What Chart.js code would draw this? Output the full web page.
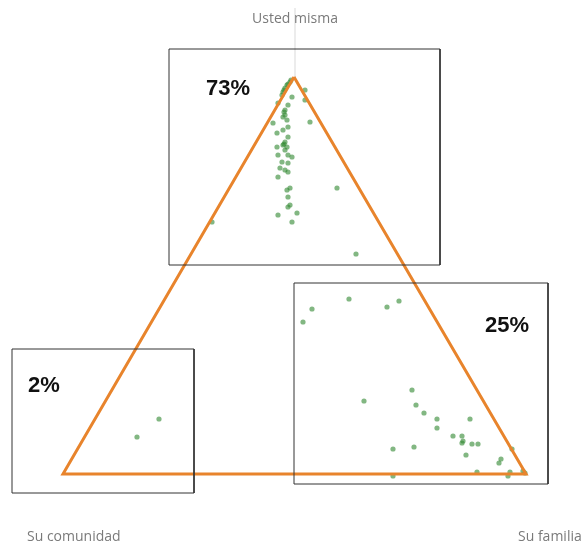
<!DOCTYPE html>
<html>
<head>
<meta charset="utf-8">
<script src="https://cdn.jsdelivr.net/npm/chart.js@4"></script>
<style>
  html, body { margin: 0; padding: 0; background: #fff; }
  #wrap { width: 581px; height: 544px; }
</style>
</head>
<body>
<div id="wrap"><canvas id="chart" width="581" height="544"></canvas></div>
<script>
// corner labels and share of answers per zone
const corners = ['Usted misma', 'Su comunidad', 'Su familia'];
const shares = ['73%', '2%', '25%'];

// triangle outline (closed)
const triangle = [
  { x: 294, y: 77 }, { x: 63, y: 474 }, { x: 526, y: 474 }, { x: 294, y: 77 }
];

// zone boxes: [left, top, right, bottom]
const boxTop = [169, 49, 440, 265];
const boxRight = [294, 283, 548, 484];
const boxLeft = [12, 349, 194, 493];

// answers near "Usted misma"
const pointsTop = [
  [291, 80], [290, 82], [288, 84], [287, 85], [285, 88], [284, 90], [283, 92], [282, 95],
  [292, 97], [305, 90], [305, 100], [278, 103], [288, 105], [285, 110], [284, 112],
  [285, 115], [283, 117], [287, 120], [310, 122], [273, 123], [288, 127], [283, 130],
  [277, 133], [288, 137], [285, 142], [284, 144], [283, 145], [287, 147], [277, 147],
  [285, 150], [288, 155], [278, 155], [292, 157], [282, 162], [288, 163], [280, 168],
  [285, 170], [288, 172], [278, 177], [290, 188], [287, 190], [337, 188], [288, 197],
  [290, 205], [288, 207], [278, 215], [297, 213], [292, 222], [212, 222], [356, 254]
];

// answers near "Su familia"
const pointsRight = [
  [303, 322], [312, 309], [349, 299], [387, 307], [399, 301], [412, 390], [364, 401],
  [416, 405], [424, 413], [437, 419], [437, 428], [470, 419], [453, 436], [462, 436],
  [463, 441], [462, 443], [472, 444], [478, 444], [466, 455], [393, 449], [414, 447],
  [512, 449], [501, 459], [499, 463], [477, 472], [510, 472], [508, 476], [523, 471],
  [525, 473], [393, 476]
];

// answers near "Su comunidad"
const pointsLeft = [[159, 419], [137, 437]];

function rect(b) {
  return [
    { x: b[0], y: b[1] }, { x: b[2], y: b[1] }, { x: b[2], y: b[3] },
    { x: b[0], y: b[3] }, { x: b[0], y: b[1] }
  ];
}
function toXY(arr) {
  return arr.map(p => ({ x: p[0], y: p[1] }));
}

const boxStyle = {
  showLine: true, borderColor: '#333', borderWidth: 1,
  pointRadius: 0, fill: false, tension: 0
};
const dotStyle = {
  showLine: false, pointRadius: 2.6, pointBorderWidth: 0,
  pointBackgroundColor: 'rgba(46, 135, 46, 0.6)'
};

// text labels drawn on top
const labelPlugin = {
  id: 'labels',
  afterDatasetsDraw(chart) {
    const ctx = chart.ctx;
    const xs = chart.scales.x, ys = chart.scales.y;
    ctx.save();
    ctx.textBaseline = 'middle';

    ctx.fillStyle = '#7a7a7a';
    ctx.font = '14px "Open Sans", sans-serif';
    ctx.textAlign = 'center';
    ctx.fillText(corners[0], xs.getPixelForValue(295), ys.getPixelForValue(19));
    ctx.textAlign = 'left';
    ctx.fillText(corners[1], xs.getPixelForValue(27), ys.getPixelForValue(537));
    ctx.fillText(corners[2], xs.getPixelForValue(518), ys.getPixelForValue(537));

    ctx.fillStyle = '#111';
    ctx.font = 'bold 22px "Liberation Sans", Arial, sans-serif';
    ctx.fillText(shares[0], xs.getPixelForValue(206), ys.getPixelForValue(89));
    ctx.fillText(shares[1], xs.getPixelForValue(28), ys.getPixelForValue(386));
    ctx.fillText(shares[2], xs.getPixelForValue(485), ys.getPixelForValue(326));
    ctx.restore();
  }
};

new Chart(document.getElementById('chart'), {
  type: 'scatter',
  data: {
    datasets: [
      { data: [{ x: 295, y: 8 }, { x: 295, y: 77 }], showLine: true,
        borderColor: 'rgba(0,0,0,0.06)', borderWidth: 1, pointRadius: 0 },
      Object.assign({ data: rect(boxTop) }, boxStyle),
      Object.assign({ data: rect(boxRight) }, boxStyle),
      Object.assign({ data: rect(boxLeft) }, boxStyle),
      { data: triangle, showLine: true, borderColor: '#e8842c', borderWidth: 3,
        pointRadius: 0, tension: 0, borderJoinStyle: 'miter' },
      Object.assign({ data: toXY(pointsTop) }, dotStyle),
      Object.assign({ data: toXY(pointsRight) }, dotStyle),
      Object.assign({ data: toXY(pointsLeft) }, dotStyle)
    ]
  },
  options: {
    responsive: false,
    animation: false,
    layout: { padding: 0, autoPadding: false },
    scales: {
      x: { type: 'linear', min: 0, max: 581, display: false },
      y: { type: 'linear', min: 0, max: 544, reverse: true, display: false }
    },
    plugins: {
      legend: { display: false },
      tooltip: { enabled: false }
    }
  },
  plugins: [labelPlugin]
});
</script>
</body>
</html>
